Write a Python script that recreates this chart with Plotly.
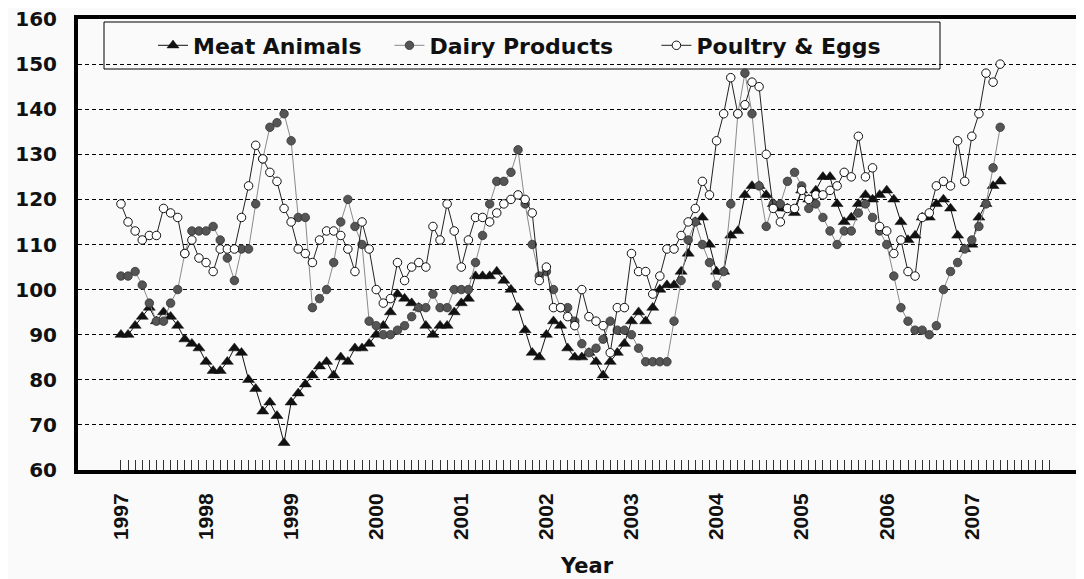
import plotly.graph_objects as go

# ---- data -------------------------------------------------------------
years = list(range(1997, 2008))
months = [f"{y}-{m:02d}" for y in years for m in range(1, 13)]  # category axis (Jan 1997 .. Dec 2007)

meat = [
    90, 90, 92, 94, 96, 93, 95, 94, 92, 89, 88, 87,          # 1997
    84, 82, 82, 84, 87, 86, 80, 78, 73, 75, 72, 66,          # 1998
    75, 77, 79, 81, 83, 84, 81, 85, 84, 87, 87, 88,          # 1999
    90, 92, 95, 99, 98, 97, 96, 92, 90, 92, 92, 95,          # 2000
    97, 98, 103, 103, 103, 104, 102, 100, 96, 91, 86, 85,    # 2001
    90, 93, 92, 87, 85, 85, 86, 84, 81, 84, 86, 88,          # 2002
    93, 95, 93, 96, 100, 101, 101, 104, 108, 115, 116, 110,  # 2003
    104, 104, 112, 113, 121, 123, 123, 121, 119, 118, 118, 117,  # 2004
    122, 120, 122, 125, 125, 119, 115, 116, 119, 121, 120, 121,  # 2005
    122, 120, 115, 111, 112, 116, 116, 119, 120, 118, 112, 109,  # 2006
    110, 116, 119, 123, 124,                                  # 2007
]

dairy = [
    103, 103, 104, 101, 97, 93, 93, 97, 100, 108, 113, 113,
    113, 114, 111, 107, 102, 109, 109, 119, 129, 136, 137, 139,
    133, 116, 116, 96, 98, 100, 106, 115, 120, 114, 110, 93,
    92, 90, 90, 91, 92, 94, 96, 96, 99, 96, 96, 100,
    100, 100, 106, 112, 119, 124, 124, 126, 131, 119, 110, 103,
    104, 100, 96, 96, 93, 88, 86, 87, 89, 93, 91, 91,
    90, 87, 84, 84, 84, 84, 93, 102, 111, 115, 110, 106,
    101, 104, 119, 139, 148, 139, 123, 114, 119, 119, 124, 126,
    123, 118, 119, 116, 113, 110, 113, 113, 117, 119, 116, 113,
    110, 103, 96, 93, 91, 91, 90, 92, 100, 104, 106, 109,
    111, 114, 119, 127, 136,
]

poultry = [
    119, 115, 113, 111, 112, 112, 118, 117, 116, 108, 111, 107,
    106, 104, 109, 109, 109, 116, 123, 132, 129, 126, 124, 118,
    115, 109, 108, 106, 111, 113, 113, 112, 109, 104, 115, 109,
    100, 97, 98, 106, 102, 105, 106, 105, 114, 111, 119, 113,
    105, 111, 116, 116, 115, 117, 119, 120, 121, 120, 117, 102,
    105, 96, 96, 94, 92, 100, 94, 93, 92, 86, 96, 96,
    108, 104, 104, 99, 103, 109, 109, 112, 115, 118, 124, 121,
    133, 139, 147, 139, 141, 146, 145, 130, 118, 115, 118, 118,
    122, 120, 121, 121, 122, 123, 126, 125, 134, 125, 127, 114,
    113, 108, 111, 104, 103, 116, 117, 123, 124, 123, 133, 124,
    134, 139, 148, 146, 150,
]

series_names = ["Meat Animals", "Dairy Products", "Poultry & Eggs"]
y_ticks = [60, 70, 80, 90, 100, 110, 120, 130, 140, 150, 160]
x_title = "Year"

# ---- figure -----------------------------------------------------------
OFF = 8  # page body margin of the html page
W, H = 1084 - OFF, 579 - OFF
ML, MR, MT, MB = 78 - OFF, 2, 19 - OFF, 109
PW, PH = W - ML - MR, H - MT - MB

def px_x(p):  # window pixel -> paper fraction
    return (p - OFF - ML) / PW

def px_y(p):
    return 1 - (p - OFF - MT) / PH

pos = list(range(len(months)))
tick_text = [m[:4] if m.endswith("-01") else "" for m in months]

NB = "\u00a0"
fig = go.Figure()
fig.add_trace(go.Scatter(
    x=pos[:len(meat)], y=meat, name=series_names[0] + NB * 3, mode="lines+markers",
    line=dict(color="#111111", width=1),
    marker=dict(symbol="triangle-up", size=10.5, color="#111111",
                line=dict(color="#111111", width=0.5)),
))
fig.add_trace(go.Scatter(
    x=pos[:len(dairy)], y=dairy, name=series_names[1] + NB * 5, mode="lines+markers",
    line=dict(color="#8a8a8a", width=1),
    marker=dict(symbol="circle", size=8.5, color="#555555",
                line=dict(color="#333333", width=0.8)),
))
fig.add_trace(go.Scatter(
    x=pos[:len(poultry)], y=poultry, name=series_names[2], mode="lines+markers",
    line=dict(color="#222222", width=1),
    marker=dict(symbol="circle", size=8.5, color="#ffffff",
                line=dict(color="#111111", width=1)),
))

fig.update_layout(
    width=W, height=H,
    margin=dict(l=ML, r=MR, t=MT, b=MB, autoexpand=False),
    paper_bgcolor="#fafafa", plot_bgcolor="#fafafa",
    font=dict(family="DejaVu Sans", color="#111111"),
    showlegend=True,
    legend=dict(
        orientation="h", x=px_x(153), y=px_y(45.5),
        xanchor="left", yanchor="middle",
        bgcolor="rgba(0,0,0,0)", borderwidth=0,
        font=dict(family="DejaVu Sans", size=22, weight="bold", color="#111111"),
        itemsizing="trace",
    ),
    xaxis=dict(
        range=[-6.06, 135.54],
        tickmode="array", tickvals=pos, ticktext=tick_text,
        tickangle=-90,
        ticks="inside", ticklen=10, tickwidth=1, tickcolor="#333333",
        tickfont=dict(family="Liberation Sans", size=21, weight="bold", color="#111111"),
        ticklabelstandoff=11,
        showgrid=False, zeroline=False,
        showline=True, linecolor="#000000", linewidth=4, mirror=True,
        automargin=False,
    ),
    yaxis=dict(
        range=[59.99, 160.01],
        tickmode="array", tickvals=y_ticks,
        ticks="",
        tickfont=dict(family="DejaVu Sans", size=20, weight="bold", color="#111111"),
        ticklabelstandoff=13,
        ticklabeloverflow="allow",
        showgrid=True, gridcolor="#000000", gridwidth=1, griddash="4px,3px",
        zeroline=False,
        showline=True, linecolor="#000000", linewidth=4, mirror=True,
        automargin=False,
    ),
    shapes=[dict(
        type="rect", xref="paper", yref="paper",
        x0=px_x(104), x1=px_x(940), y0=px_y(69), y1=px_y(22),
        line=dict(color="#000000", width=1), fillcolor="#fafafa", layer="between",
    )],
    annotations=[dict(
        text=x_title, xref="paper", yref="paper",
        x=px_x(587), y=px_y(566), xanchor="center", yanchor="middle",
        showarrow=False,
        font=dict(family="DejaVu Sans", size=21, weight="bold", color="#111111"),
    )],
)

fig.write_html("out.html")
